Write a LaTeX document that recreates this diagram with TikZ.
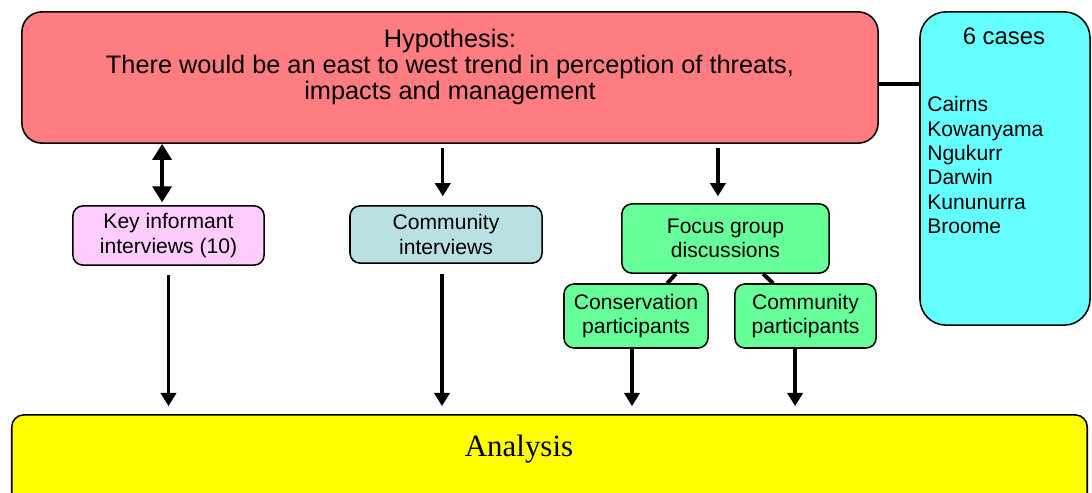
\documentclass[tikz,border=0pt]{standalone}
\usepackage{fontspec}
\setmainfont{Liberation Sans}
\newfontfamily\analysisfont{Liberation Serif}
\usetikzlibrary{arrows.meta,calc}
\definecolor{hypred}{HTML}{FF7C80}
\definecolor{keypink}{HTML}{FFCCFF}
\definecolor{commblue}{HTML}{B9E0E2}
\definecolor{focusgreen}{HTML}{66FF99}
\definecolor{casecyan}{HTML}{66FFFF}
\definecolor{anayellow}{HTML}{FFFF00}
\tikzstyle{box}=[draw,line width=1.1pt,rounded corners=0.25cm,inner sep=0pt,align=center,font=\fontsize{15}{17.5}\selectfont]
\tikzstyle{edge} = [draw,line width=2.4pt,-{Triangle[length=0.33cm,width=0.38cm]}]
\tikzstyle{link} = [draw,line width=3.2pt]

\begin{document}
\begin{tikzpicture}[x=0.025cm,y=-0.025cm]
    \useasboundingbox (0,0) rectangle (1092,493);
    % First the big boxes
    \node[box,fill=hypred,minimum width=21.4cm,minimum height=3.28cm,rounded corners=0.5cm] (hyp) at (450,77.5) {};
    \node[align=center,font=\fontsize{18}{18.3}\selectfont] (hyptext) at (450,67)
        {Hypothesis:\\There would be an east to west trend in perception of threats,\\impacts and management};
    \node[box,fill=casecyan,minimum width=4.25cm,minimum height=7.83cm,rounded corners=0.65cm] (cases) at (1005,168.5) {};
    \node[font=\fontsize{17}{20}\selectfont] (casetitle) at (1004,36) {6 cases};
    \node[anchor=north west,inner sep=0pt,align=left,font=\fontsize{15}{17.4}\selectfont] (places) at (927,96)
        {Cairns\\Kowanyama\\Ngukurr\\Darwin\\Kununurra\\Broome};
    \node[box,fill=anayellow,minimum width=26.88cm,minimum height=2.38cm,rounded corners=0.3cm] (ana) at (549.5,462.5) {};
    \node[font=\analysisfont\fontsize{22}{26}\selectfont] (anatext) at (519,449) {Analysis};

    % Then the method boxes
    \node[box,fill=keypink,minimum width=4.78cm,minimum height=1.48cm] (key) at (168.5,235.5) {Key informant\\interviews (10)};
    \node[box,fill=commblue,minimum width=4.8cm,minimum height=1.43cm] (comm) at (446,234.5) {Community\\interviews};
    \node[box,fill=focusgreen,minimum width=5.18cm,minimum height=1.73cm] (focus) at (725.5,238.5) {Focus group\\discussions};
    \node[box,fill=focusgreen,minimum width=3.6cm,minimum height=1.6cm] (cons) at (636,316) {Conservation\\participants};
    \node[box,fill=focusgreen,minimum width=3.53cm,minimum height=1.6cm] (part) at (805.5,316) {Community\\participants};

    % Connect the boxes
    \path[link] ([yshift=-0.16cm]hyp.east) -- ([yshift=-0.16cm]hyp.east -| cases.west);
    \path[edge,line width=3.4pt,{Triangle[length=0.4cm,width=0.47cm]}-{Triangle[length=0.4cm,width=0.47cm]},shorten >=0.07cm]
        ([xshift=-0.16cm]key.north |- hyp.south) -- ([xshift=-0.16cm]key.north);
    \path[edge,shorten <=0.1cm,shorten >=0.22cm] ([xshift=-0.08cm]comm.north |- hyp.south) -- ([xshift=-0.08cm]comm.north);
    \path[edge,shorten <=0.1cm,shorten >=0.17cm] ([xshift=-0.19cm]focus.north |- hyp.south) -- ([xshift=-0.19cm]focus.north);
    \path[link,line width=2.8pt] ([xshift=-1.24cm]focus.south) -- ([xshift=0.78cm]cons.north);
    \path[link,line width=2.8pt] ([xshift=0.94cm]focus.south) -- ([xshift=-0.81cm]part.north);

    \foreach \source/\dx/\gap in {key/0/0.22, comm/-0.1/0.25, cons/-0.1/0, part/-0.26/0}
        \path[edge,shorten <=\gap cm,shorten >=0.2cm] ([xshift=\dx cm]\source.south) -- ([xshift=\dx cm]\source.south |- ana.north);
\end{tikzpicture}
\end{document}
